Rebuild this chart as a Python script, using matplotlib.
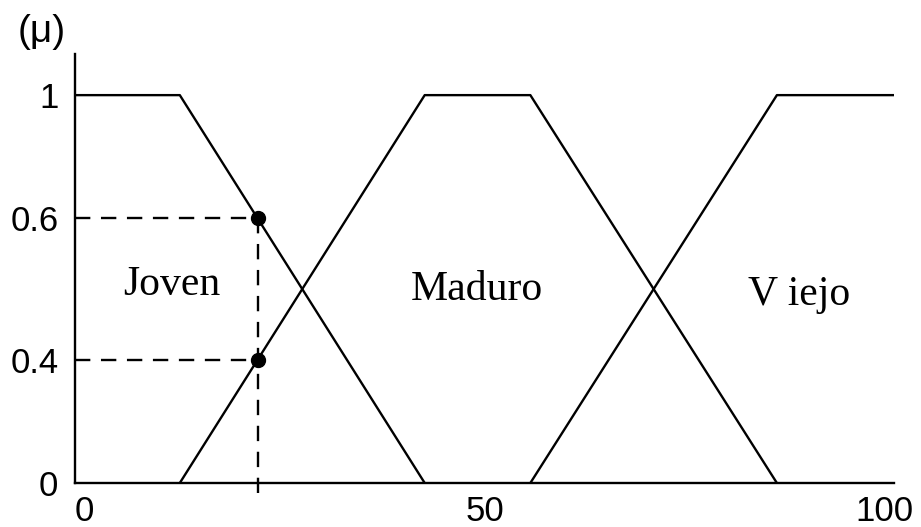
import matplotlib
matplotlib.use("Agg")
import matplotlib.pyplot as plt
from matplotlib.transforms import ScaledTranslation
import numpy as np

# membership functions (age -> mu), corner points
joven_x = [0, 12.8, 42.7]
joven_y = [1, 1, 0]
maduro_x = [12.8, 42.7, 55.6, 85.7]
maduro_y = [0, 1, 1, 0]
viejo_x = [55.6, 85.7, 100]
viejo_y = [0, 1, 1]

edad = 22.3  # sample age marked with dashed lines
xticks = [0, 50, 100]
xtick_labels = ["0", "50", "100"]
ytick_labels = ["0", "0.4", "0.6", "1"]

mu_joven = np.interp(edad, joven_x, joven_y)
mu_maduro = np.interp(edad, maduro_x, maduro_y)

fig = plt.figure(figsize=(9.21, 5.27), dpi=100)
ax = fig.add_axes([0.0814, 0.0835, 0.8893, 0.814])

lw = 1.7
ax.plot(joven_x, joven_y, color="black", lw=lw)
ax.plot(maduro_x, maduro_y, color="black", lw=lw)
ax.plot(viejo_x, viejo_y, color="black", lw=lw)

# dashed guides
dash = (0, (6.5, 4.5))
ax.plot([0, edad], [mu_joven, mu_joven], color="black", lw=lw, linestyle=dash)
ax.plot([0, edad], [mu_maduro, mu_maduro], color="black", lw=lw, linestyle=dash)
ax.plot([edad, edad], [mu_joven, -0.027], color="black", lw=lw, linestyle=dash, clip_on=False)
ax.plot([edad, edad], [mu_joven, mu_maduro], "o", color="black", markersize=10)

serif = "Liberation Serif"
ax.text(11.8, 0.485, "Joven", ha="center", va="baseline", fontsize=30, family=serif)
ax.text(49.1, 0.472, "Maduro", ha="center", va="baseline", fontsize=30, family=serif)
ax.text(88.4, 0.459, "V iejo", ha="center", va="baseline", fontsize=30, family=serif)

ax.set_xlim(0, 100)
ax.set_ylim(0, 1.106)
ax.set_xticks(xticks)
ax.set_xticklabels(xtick_labels, family="Liberation Sans", fontsize=25)
ax.set_yticks([0, mu_maduro, mu_joven, 1])
ax.set_yticklabels(ytick_labels, family="Liberation Sans", fontsize=25)
ax.tick_params(axis="both", length=0)
ax.tick_params(axis="x", pad=9)
ax.tick_params(axis="y", pad=12)

# nudge the end labels like in the original drawing
xl = ax.get_xticklabels()
xl[0].set_horizontalalignment("left")
xl[2].set_horizontalalignment("right")
xl[2].set_transform(xl[2].get_transform() + ScaledTranslation(0.19, 0, fig.dpi_scale_trans))

for s in ["top", "right"]:
    ax.spines[s].set_visible(False)
for s in ["left", "bottom"]:
    ax.spines[s].set_linewidth(1.7)

fig.text(42 / 921, 1 - 32 / 527, "(μ)", ha="center", va="center", fontsize=28, family="Liberation Sans")

fig.savefig("out.png", dpi=100)
